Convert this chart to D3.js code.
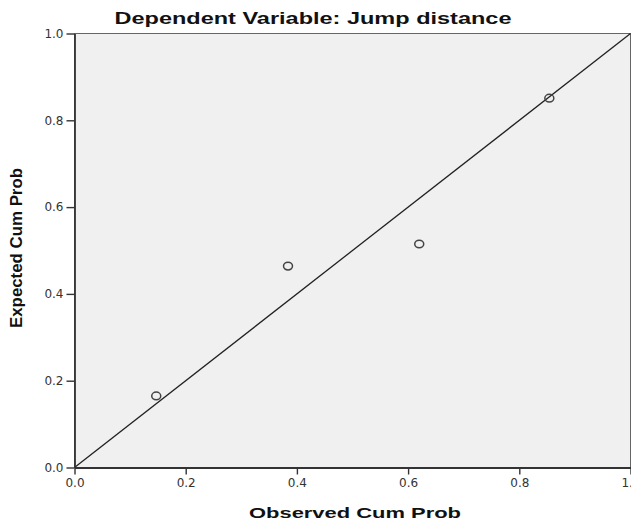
<!DOCTYPE html>
<html lang="en">
<head>
<meta charset="UTF-8">
<title>P-P plot: Jump distance</title>
<script src="https://cdn.jsdelivr.net/npm/d3@7"></script>
<style>
  body { margin: 0; background: #fff; }
  svg { display: block; }
</style>
</head>
<body>
<script>
// data
var observed = [0.147, 0.384, 0.620, 0.854];
var expected = [0.165, 0.464, 0.515, 0.851];
var tickVals = [0, 0.2, 0.4, 0.6, 0.8, 1.0];
var titleText = "Dependent Variable: Jump distance";
var xLabel = "Observed Cum Prob";
var yLabel = "Expected Cum Prob";

var w = 631, h = 522;
var plotL = 74.5, plotR = 630.5, plotT = 33.5, plotB = 467.5;

var svg = d3.select("body").append("svg")
  .attr("width", w)
  .attr("height", h);

var xScale = d3.scaleLinear().domain([0, 1]).range([plotL, plotR]);
var yScale = d3.scaleLinear().domain([0, 1]).range([plotB, plotT]);

// plot background + frame
svg.append("rect")
  .attr("x", plotL).attr("y", plotT)
  .attr("width", plotR - plotL).attr("height", plotB - plotT)
  .attr("fill", "#f0f0f0")
  .attr("stroke", "#666")
  .attr("stroke-width", 1);

// diagonal reference line
svg.append("line")
  .attr("x1", xScale(0)).attr("y1", yScale(0))
  .attr("x2", xScale(1)).attr("y2", yScale(1))
  .attr("stroke", "#222")
  .attr("stroke-width", 1.3);

// axes
var fmt = function(d) { return d3.format(".1f")(d); };
var xAxis = svg.append("g")
  .attr("transform", "translate(0," + plotB + ")")
  .call(d3.axisBottom(xScale).tickValues(tickVals).tickFormat(fmt).tickSizeInner(7).tickSizeOuter(0).tickPadding(4));
var yAxis = svg.append("g")
  .attr("transform", "translate(" + plotL + ",0)")
  .call(d3.axisLeft(yScale).tickValues(tickVals).tickFormat(fmt).tickSizeInner(8).tickSizeOuter(0).tickPadding(3));

[xAxis, yAxis].forEach(function(g) {
  g.select(".domain").attr("stroke", "#333").attr("stroke-width", 1.8);
  g.selectAll(".tick line").attr("stroke", "#333").attr("stroke-width", 1.4);
  g.selectAll(".tick text")
    .attr("fill", "#333")
    .style("font-family", "DejaVu Sans")
    .style("font-size", "12px");
});

// points
var pts = observed.map(function(o, i) { return { x: o, y: expected[i] }; });
svg.selectAll("ellipse.pt")
  .data(pts)
  .enter()
  .append("ellipse")
  .attr("class", "pt")
  .attr("cx", function(d) { return xScale(d.x); })
  .attr("cy", function(d) { return yScale(d.y); })
  .attr("rx", 4.5)
  .attr("ry", 3.8)
  .attr("fill", "none")
  .attr("stroke", "#444")
  .attr("stroke-width", 1.5);

// title and axis labels
svg.append("text")
  .attr("x", 313).attr("y", 24)
  .attr("text-anchor", "middle")
  .attr("textLength", 397)
  .attr("lengthAdjust", "spacingAndGlyphs")
  .style("font-family", "Liberation Sans, Arial, sans-serif")
  .style("font-weight", "bold")
  .style("font-size", "17px")
  .attr("fill", "#111")
  .text(titleText);

svg.append("text")
  .attr("x", 355).attr("y", 518)
  .attr("text-anchor", "middle")
  .attr("textLength", 212)
  .attr("lengthAdjust", "spacingAndGlyphs")
  .style("font-family", "Liberation Sans, Arial, sans-serif")
  .style("font-weight", "bold")
  .style("font-size", "15px")
  .attr("fill", "#111")
  .text(xLabel);

svg.append("text")
  .attr("transform", "translate(22,248) rotate(-90)")
  .attr("text-anchor", "middle")
  .attr("textLength", 160)
  .attr("lengthAdjust", "spacingAndGlyphs")
  .style("font-family", "Liberation Sans, Arial, sans-serif")
  .style("font-weight", "bold")
  .style("font-size", "17px")
  .attr("fill", "#111")
  .text(yLabel);
</script>
</body>
</html>
